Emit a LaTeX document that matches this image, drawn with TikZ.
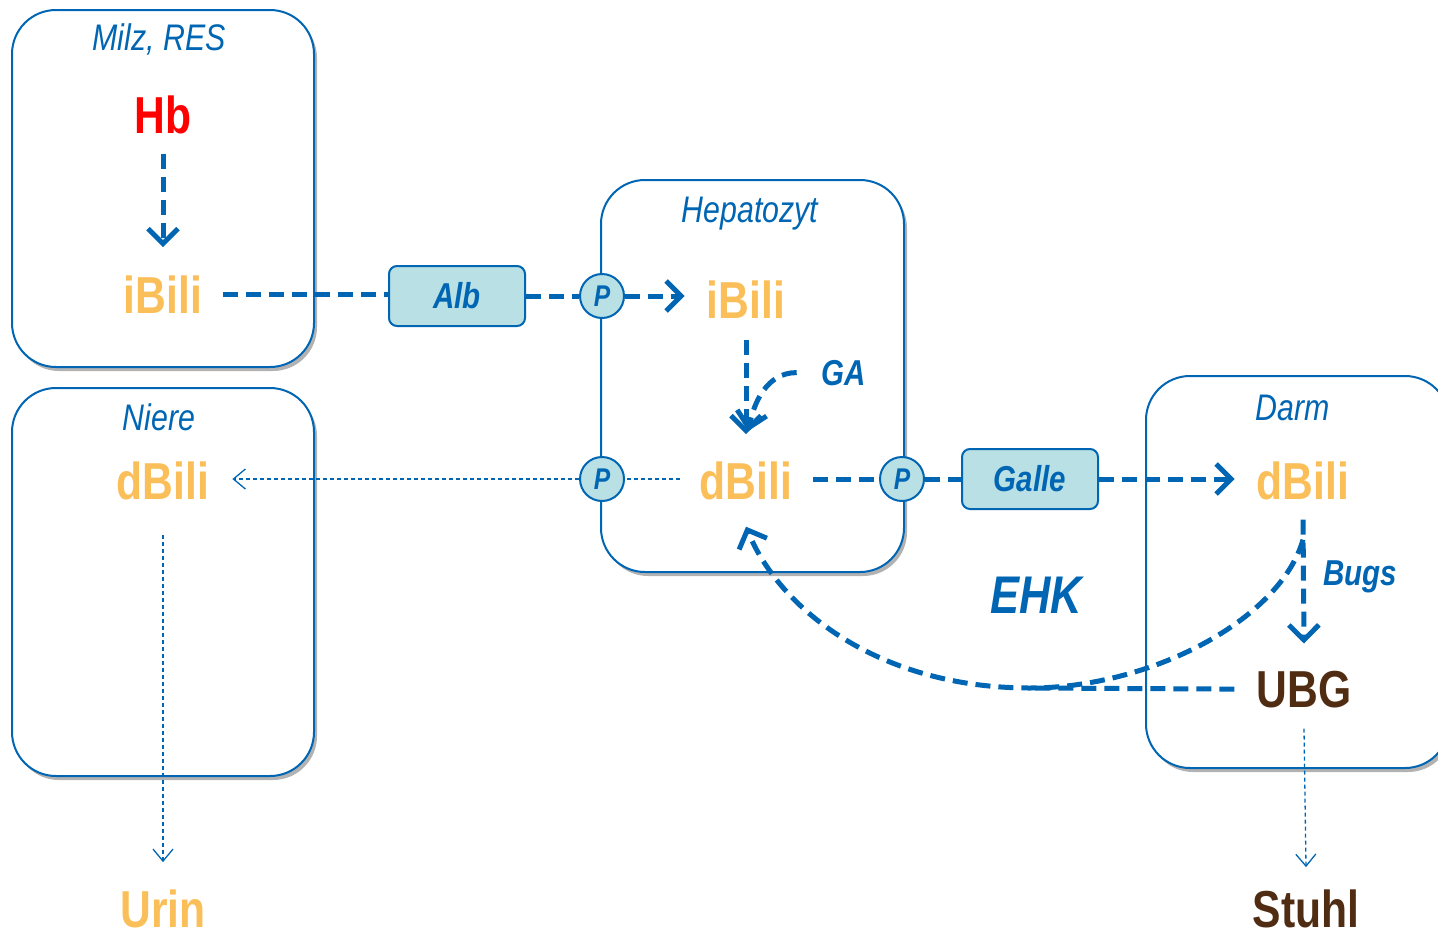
\documentclass[tikz,border=0pt]{standalone}
\usepackage{fontspec}
\setmainfont{Liberation Sans}[FakeStretch=0.82]
\usetikzlibrary{arrows.meta,shadows,calc}
\definecolor{bblue}{RGB}{0,102,179}
\definecolor{bili}{RGB}{251,191,90}
\definecolor{ubgbrown}{RGB}{79,44,18}
\definecolor{pfill}{RGB}{185,224,228}
\tikzset{
  region/.style={draw=bblue, line width=2pt, rounded corners=44pt, fill=white,
    drop shadow={shadow xshift=3pt, shadow yshift=-4pt, fill=black!60, opacity=0.5}},
  title/.style={anchor=base, text=bblue, inner sep=0pt, font=\fontsize{37}{40}\selectfont\itshape},
  big/.style={anchor=base, inner sep=0pt, font=\fontsize{52}{56}\selectfont\bfseries},
  tag/.style={anchor=base, inner sep=0pt, text=bblue, font=\fontsize{36}{40}\selectfont\bfseries\itshape},
  carrier/.style={draw=bblue, line width=2pt, fill=pfill, rounded corners=8pt,
    minimum width=136pt, minimum height=60pt, inner sep=0pt, text=bblue,
    font=\fontsize{36}{40}\selectfont\bfseries\itshape},
  pump/.style={circle, draw=bblue, line width=2pt, fill=pfill, minimum size=44pt,
    inner sep=0pt, text=bblue, font=\fontsize{30}{32}\selectfont\bfseries\itshape},
  flow/.style={draw=bblue, line width=5pt, dash pattern=on 15pt off 8pt},
  flowtip/.style={flow, -{Straight Barb[length=15pt,width=30pt]}},
  thinflow/.style={draw=bblue, line width=1.3pt, dash pattern=on 4pt off 3pt},
  thintip/.style={thinflow, -{Straight Barb[length=12pt,width=20pt]}}
}
\begin{document}
\begin{tikzpicture}[x=1pt,y=-1pt]
\useasboundingbox (0,0) rectangle (1438,937);
\clip (0,0) rectangle (1438,937);

% compartments
\node[region, minimum width=302pt, minimum height=357pt] (milz) at (163,188.5) {};
\node[region, minimum width=302pt, minimum height=388pt] (niere) at (163,582) {};
\node[region, minimum width=303pt, minimum height=392pt] (hep) at (752.5,376) {};
\node[region, minimum width=303pt, minimum height=392pt] (darm) at (1297.5,572) {};

\node[title] (tmilz) at (159,50) {Milz, RES};
\node[title] (tniere) at (159,430) {Niere};
\node[title] (thep) at (750,222) {Hepatozyt};
\node[title] (tdarm) at (1293,420) {Darm};

% substances
\node[big, text=red] (hb) at (163,133) {Hb};
\node[big, text=bili] (ibiliA) at (163,313) {iBili};
\node[big, text=bili] (ibiliB) at (746,318) {iBili};
\node[big, text=bili] (dbiliB) at (746,499) {dBili};
\node[big, text=bili] (dbiliA) at (163,499) {dBili};
\node[big, text=bili] (dbiliC) at (1303,499) {dBili};
\node[big, text=ubgbrown] (ubg) at (1304,707) {UBG};
\node[big, text=bili] (urin) at (163,927) {Urin};
\node[big, text=ubgbrown] (stuhl) at (1306,927) {Stuhl};

% carriers and transporters
\node[carrier] (alb) at (457,296) {Alb};
\node[carrier] (galle) at (1030,479) {Galle};
\node[pump] (p1) at (602,296) {P};
\node[pump] (p2) at (602,479) {P};
\node[pump] (p3) at (902,479) {P};

\node[tag] (ga) at (844,385) {GA};
\node[tag] (bugs) at (1360,585) {Bugs};
\node[anchor=base, inner sep=0pt, text=bblue, font=\fontsize{53}{56}\selectfont\bfseries\itshape] (ehk) at (1036,613) {EHK};

% uptake
\draw[flowtip] ([yshift=-20pt]hb.south) -- ([yshift=28pt]ibiliA.north);
\draw[flow] ([xshift=21pt]ibiliA.east) -- (alb.west |- ibiliA.east);
\draw[flow] (alb.east) -- (p1.west);
\draw[flowtip] (p1.east) -- ($(ibiliB.west |- p1.east)+(-22,0)$);

% conjugation
\draw[flowtip] ([yshift=-22pt]ibiliB.south) -- ([yshift=27pt]dbiliB.north);
\draw[flowtip] ([xshift=-25pt]ga.west) to[out=180, in=78] ([xshift=2pt,yshift=30pt]dbiliB.north);

% renal route
\draw[thinflow] ($(dbiliB.west |- p2.east)+(-20,0)$) -- (p2.east);
\draw[thintip] (p2.west) -- ($(dbiliA.east |- p2.west)+(23,0)$);
\draw[thintip] ([yshift=-35pt]dbiliA.south) -- ([yshift=27pt]urin.north);

% biliary route
\draw[flow] ($(dbiliB.east |- p3.west)+(21,0)$) -- (p3.west);
\draw[flow] (p3.east) -- (galle.west);
\draw[flowtip] (galle.east) -- ($(dbiliC.west |- galle.east)+(-22,0)$);
\draw[flowtip] ([yshift=-20pt]dbiliC.south) -- ([yshift=27pt]ubg.north);
\draw[thintip] ([yshift=-21pt]ubg.south) -- ([yshift=22pt]stuhl.north);

% enterohepatic circulation
\coordinate (merge) at (1030,688);
\draw[flow] ([xshift=-22pt]ubg.west) -- (merge);
\draw[flowtip] ([yshift=-40pt]dbiliC.south) .. controls (1280,620) and (1150,688) .. (merge)
  .. controls (880,688) and (780,610) .. ([yshift=-27pt]dbiliB.south);
\end{tikzpicture}
\end{document}
